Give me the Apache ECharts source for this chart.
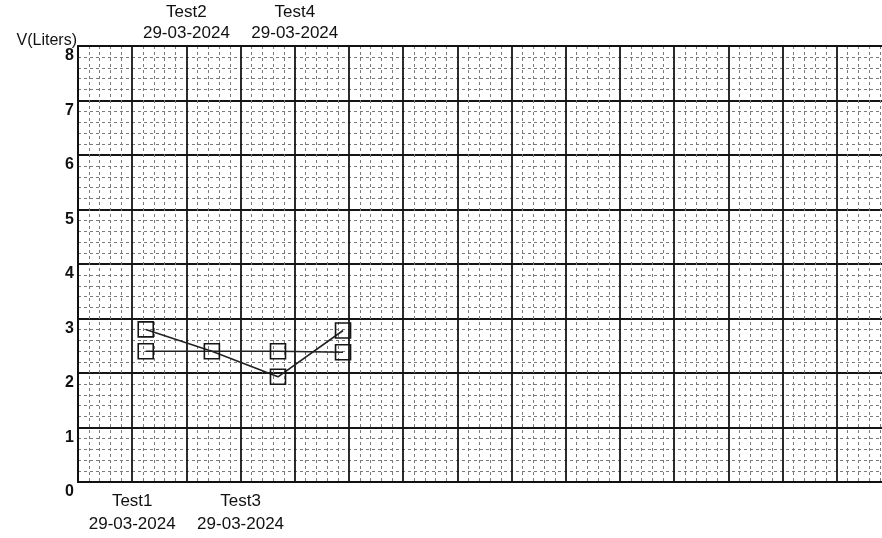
<!DOCTYPE html>
<html>
<head>
<meta charset="utf-8">
<style>html,body{margin:0;padding:0;background:#fff;overflow:hidden;}#c{width:960px;height:538px;}</style>
<script src="https://cdn.jsdelivr.net/npm/echarts@6/dist/echarts.min.js"></script>
</head>
<body>
<div id="c"></div>
<script>
// Data
const testNames = ['Test1', 'Test2', 'Test3', 'Test4'];
const testDates = ['29-03-2024', '29-03-2024', '29-03-2024', '29-03-2024'];
const labelPositions = [1, 2, 3, 4];          // x-axis tick where each test label sits
const pointX = [1.25, 2.47, 3.69, 4.89];       // x position of measured points
const seriesA = [2.8, 2.4, 1.93, 2.78];
const seriesB = [2.4, 2.4, 2.4, 2.38];
const yTicks = [0, 1, 2, 3, 4, 5, 6, 7, 8];

const font = 'Liberation Sans, Arial, sans-serif';
function labelFor(v, which) {
  const i = labelPositions.indexOf(Math.round(v));
  if (i < 0 || Math.abs(v - labelPositions[i]) > 1e-6) return '';
  if ((i % 2 === 0) !== (which === 'bottom')) return '';
  return testNames[i] + '\n' + testDates[i];
}
const chart = echarts.init(document.getElementById('c'));
const markerStyle = { color: 'rgba(255,255,255,0)', borderColor: '#151515', borderWidth: 1.6 };
function buildData(xs, ys, other) {
  return xs.map((x, i) => {
    const item = { value: [x, ys[i]] };
    // a point shared with the other series is drawn only once
    if (other && Math.abs(other[i] - ys[i]) < 1e-9) item.symbol = 'none';
    return item;
  });
}
const commonX = {
  type: 'value', min: 0, max: 15, interval: 1,
  axisTick: { show: false },
  axisLine: { show: true, lineStyle: { color: '#111', width: 2 } }
};
const minorLine = { show: true, lineStyle: { color: '#7a7a7a', width: 1, type: [3, 3] } };
chart.setOption({
  backgroundColor: '#ffffff',
  animation: false,
  grid: { left: 78, top: 46, width: 813, bottom: 56 },
  xAxis: [
    Object.assign({}, commonX, {
      position: 'bottom',
      axisLabel: {
        margin: 8, color: '#111', fontFamily: font, fontSize: 17, lineHeight: 23,
        formatter: v => labelFor(v, 'bottom')
      },
      splitLine: { show: true, lineStyle: { color: '#151515', width: 1.8 } },
      minorTick: { show: false, splitNumber: 5 },
      minorSplitLine: minorLine
    }),
    Object.assign({}, commonX, {
      position: 'top',
      axisLabel: {
        margin: 2, color: '#111', fontFamily: font, fontSize: 17, lineHeight: 21,
        formatter: v => labelFor(v, 'top')
      },
      splitLine: { show: false }
    })
  ],
  yAxis: {
    type: 'value', min: 0, max: 8, interval: 1,
    name: 'V(Liters)', nameLocation: 'end', nameGap: 0,
    nameTextStyle: { color: '#111', fontFamily: font, fontSize: 16, align: 'right', verticalAlign: 'bottom', padding: [0, 1, -10, 0] },
    axisLine: { show: true, lineStyle: { color: '#111', width: 2 } },
    axisTick: { show: false },
    axisLabel: {
      margin: 4, color: '#111', fontFamily: font, fontSize: 16, fontWeight: 'bold', verticalAlign: 'top',
      padding: [2, 0, 0, 0],
      formatter: v => (yTicks.indexOf(v) >= 0 ? String(v) : '')
    },
    splitLine: { show: true, lineStyle: { color: '#151515', width: 1.8 } },
    minorTick: { show: false, splitNumber: 5 },
    minorSplitLine: minorLine
  },
  series: [
    {
      type: 'line', data: buildData(pointX, seriesA, seriesB),
      symbol: 'rect', symbolSize: 15,
      itemStyle: markerStyle,
      lineStyle: { color: '#222', width: 1.6 }, z: 5
    },
    {
      type: 'line', data: buildData(pointX, seriesB, null),
      symbol: 'rect', symbolSize: 15,
      itemStyle: markerStyle,
      lineStyle: { color: '#222', width: 1.6 }, z: 5
    }
  ]
});
</script>
</body>
</html>
